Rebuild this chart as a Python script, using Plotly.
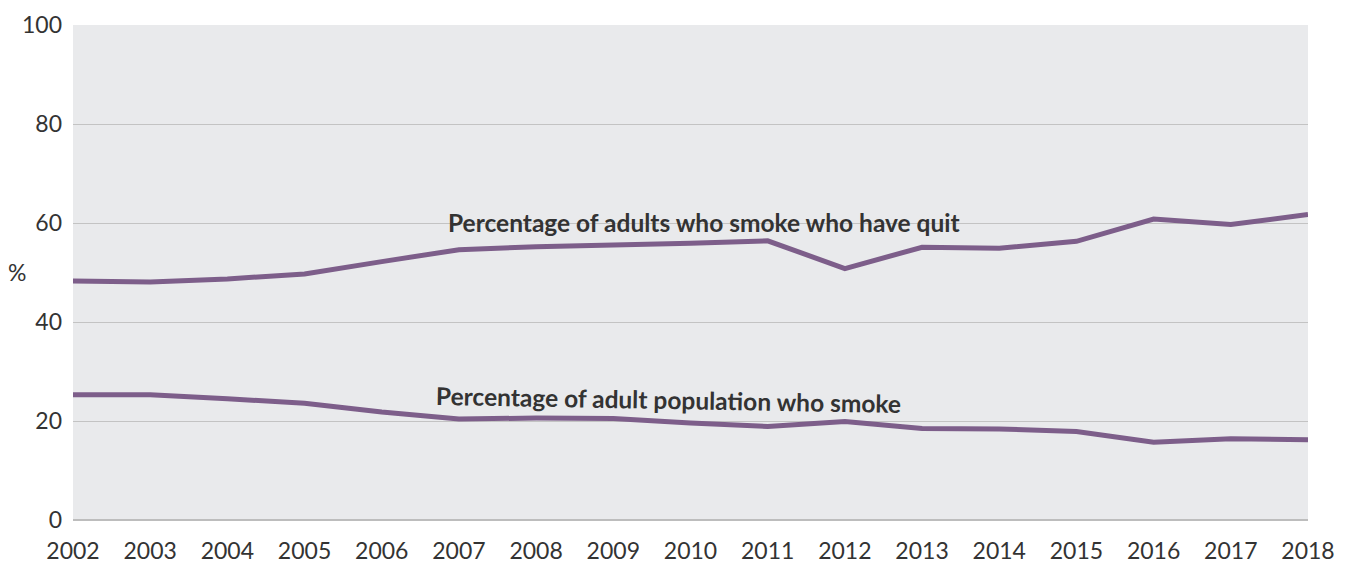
import plotly.graph_objects as go

years = list(range(2002, 2019))
quit_pct = [48.3, 48.1, 48.7, 49.7, 52.2, 54.6, 55.2, 55.5, 55.9, 56.4,
            50.8, 55.1, 54.9, 56.3, 60.8, 59.7, 61.7]
smoke_pct = [25.3, 25.3, 24.5, 23.6, 21.8, 20.4, 20.6, 20.5, 19.6, 18.9,
             19.9, 18.5, 18.4, 17.9, 15.7, 16.4, 16.2]
y_ticks = [0, 20, 40, 60, 80, 100]

line_color = "#7d5e8a"
text_color = "#333333"
font_family = "Lato, 'Open Sans', sans-serif"

W, H = 1349, 563
ML, MR, MT, MB = 73, 41, 25, 43

fig = go.Figure()
for series in (quit_pct, smoke_pct):
    fig.add_trace(go.Scatter(
        x=years, y=series, mode="lines",
        line=dict(color=line_color, width=5),
        showlegend=False, hoverinfo="x+y",
    ))

fig.add_annotation(x=2010.18, y=60.2, xref="x", yref="y",
                   text="<b>Percentage of adults who smoke who have quit</b>",
                   showarrow=False, font=dict(size=24.5, color=text_color, family=font_family))
fig.add_annotation(x=2009.71, y=24.4, xref="x", yref="y", textangle=1,
                   text="<b>Percentage of adult population who smoke</b>",
                   showarrow=False, font=dict(size=24.5, color=text_color, family=font_family))

# axis unit label, positioned in pixels left of the plot area
fig.add_annotation(x=(6 - ML) / (W - ML - MR), y=(H - MB - 272) / (H - MT - MB),
                   xref="paper", yref="paper", xanchor="left", text="%",
                   showarrow=False,
                   font=dict(size=23, color=text_color, family=font_family))

fig.update_layout(
    width=W, height=H,
    margin=dict(l=ML, r=MR, t=MT, b=MB),
    paper_bgcolor="white",
    plot_bgcolor="#e9eaec",
    font=dict(family=font_family, size=23, color=text_color),
    xaxis=dict(
        range=[2002, 2018], tickmode="array", tickvals=years,
        ticktext=[str(y) for y in years],
        showgrid=False, zeroline=False, showline=False,
        ticks="", ticklabelstandoff=15, automargin=False,
        tickfont=dict(size=23, color=text_color),
    ),
    yaxis=dict(
        range=[0, 100], tickmode="array", tickvals=y_ticks,
        showgrid=True, gridcolor="#c3c3c3", gridwidth=1,
        zeroline=True, zerolinecolor="#bdbdbd", zerolinewidth=2,
        showline=False, ticks="", ticklabelstandoff=10, automargin=False,
        tickfont=dict(size=23, color=text_color),
    ),
)

fig.write_html("out.html")
